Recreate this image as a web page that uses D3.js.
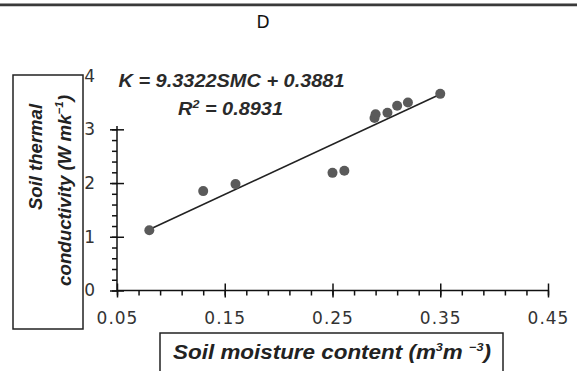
<!DOCTYPE html>
<html><head><meta charset="utf-8">
<script src="https://cdn.jsdelivr.net/npm/d3@7"></script>
<style>body{margin:0;background:#fff}svg{display:block}</style>
</head><body>
<script>
const smc = [0.08, 0.13, 0.16, 0.25, 0.261, 0.289, 0.29, 0.301, 0.31, 0.32, 0.35];
const kVals = [1.12, 1.85, 1.98, 2.19, 2.23, 3.21, 3.28, 3.31, 3.44, 3.50, 3.66];
const xTicks = [0.05, 0.15, 0.25, 0.35, 0.45];
const yTicks = [0, 1, 2, 3, 4];
const slope = 9.3322, intercept = 0.3881;
const fitRange = [0.08, 0.35];

const W = 577, H = 371;
const svg = d3.select("body").append("svg").attr("width", W).attr("height", H);

const x = d3.scaleLinear().domain([0.05, 0.45]).range([117, 548]);
const y = d3.scaleLinear().domain([0, 4]).range([290.5, 75.6]);

// top border
svg.append("rect").attr("x",0).attr("y",3).attr("width",W).attr("height",3.5).attr("fill","#999");
svg.append("rect").attr("x",0).attr("y",4).attr("width",W).attr("height",2).attr("fill","#3a3a3a");

svg.append("text").attr("x",263).attr("y",28).attr("text-anchor","middle")
  .attr("font-family","DejaVu Sans").attr("font-size",17).attr("fill","#111").text("D");

const axisCol = "#111";
// Y axis minor
const gy = svg.append("g").attr("transform",`translate(${x(0.05)},0)`);
gy.call(d3.axisLeft(y).tickValues(d3.range(0, 4.001, 0.2)).tickSize(5).tickFormat(""));
gy.selectAll("path,line").attr("stroke",axisCol).attr("stroke-width",1.5);
gy.select(".domain").attr("d",`M0,${y(0)}V${y(4)}`);
// Y axis major
const gy2 = svg.append("g").attr("transform",`translate(${x(0.05)},0)`);
gy2.call(d3.axisLeft(y).tickValues(yTicks).tickSize(7).tickPadding(15).tickFormat(d3.format("d")));
gy2.select(".domain").remove();
gy2.selectAll("line").attr("x1",-7).attr("x2",7).attr("stroke",axisCol).attr("stroke-width",1.5);
gy2.selectAll("text").attr("font-family","DejaVu Sans").attr("font-size",17).attr("fill","#333");

// X axis minor
const gx = svg.append("g").attr("transform",`translate(0,${y(0)})`);
gx.call(d3.axisBottom(x).tickValues(d3.range(0.05, 0.4501, 0.02)).tickSize(5).tickFormat(""));
gx.selectAll("path,line").attr("stroke",axisCol).attr("stroke-width",1.5);
gx.select(".domain").attr("d",`M${x(0.05)},0H${x(0.45)}`);
const gx2 = svg.append("g").attr("transform",`translate(0,${y(0)})`);
gx2.call(d3.axisBottom(x).tickValues(xTicks).tickSize(7).tickPadding(14).tickFormat(d3.format(".2f")));
gx2.select(".domain").remove();
gx2.selectAll("line").attr("y1",-7).attr("y2",7).attr("stroke",axisCol).attr("stroke-width",1.5);
gx2.selectAll("text").attr("font-family","DejaVu Sans").attr("font-size",17).attr("fill","#333")
  .attr("letter-spacing","1px");

// fit line
svg.append("line")
  .attr("x1",x(fitRange[0])).attr("y1",y(slope*fitRange[0]+intercept))
  .attr("x2",x(fitRange[1])).attr("y2",y(slope*fitRange[1]+intercept))
  .attr("stroke","#222").attr("stroke-width",1.6);

// points
svg.append("g").selectAll("circle").data(smc).join("circle")
  .attr("cx",(d)=>x(d)).attr("cy",(d,i)=>y(kVals[i])).attr("r",5).attr("fill","#5a5a5a");

// equation box (white background covering top of axis)
svg.append("rect").attr("x",104).attr("y",62).attr("width",250).attr("height",64).attr("fill","#fff");
const eq = svg.append("g").attr("font-family","Liberation Sans").attr("font-weight","bold")
  .attr("font-style","italic").attr("fill","#2a2a2a").attr("font-size",17.5);
eq.append("text").attr("transform","translate(231.5,86.5) scale(1.14,1)").attr("text-anchor","middle")
  .text(`K = ${slope}SMC + ${intercept}`);
const r2 = eq.append("text").attr("transform","translate(230.5,115) scale(1.14,1)").attr("text-anchor","middle");
r2.append("tspan").text("R");
r2.append("tspan").attr("font-size",11).attr("dy",-7).text("2");
r2.append("tspan").attr("dy",7).text(" = 0.8931");

// Y label box
svg.append("rect").attr("x",13).attr("y",75).attr("width",70).attr("height",254)
  .attr("fill","none").attr("stroke","#222").attr("stroke-width",1.5);
const yl = svg.append("g").attr("font-family","Liberation Sans").attr("font-weight","bold")
  .attr("font-style","italic").attr("fill","#222").attr("font-size",18);
yl.append("text").attr("transform","translate(42,157) rotate(-90) scale(1.03,1)").attr("text-anchor","middle")
  .text("Soil thermal");
const yl2 = yl.append("text").attr("transform","translate(71,190.5) rotate(-90) scale(1.04,1)").attr("text-anchor","middle");
yl2.append("tspan").text("conductivity (W mk");
yl2.append("tspan").attr("font-size",11).attr("dy",-8).text("−1");
yl2.append("tspan").attr("dy",8).text(")");

// X label box
svg.append("rect").attr("x",160).attr("y",333).attr("width",343).attr("height",45)
  .attr("fill","none").attr("stroke","#222").attr("stroke-width",1.5);
const xl = svg.append("text").attr("transform","translate(332,359) scale(1.15,1)").attr("text-anchor","middle")
  .attr("font-family","Liberation Sans").attr("font-weight","bold").attr("font-style","italic")
  .attr("fill","#222").attr("font-size",19.5);
xl.append("tspan").text("Soil moisture content (m");
xl.append("tspan").attr("font-size",11).attr("dy",-8).text("3");
xl.append("tspan").attr("dy",8).text("m ");
xl.append("tspan").attr("font-size",11).attr("dy",-8).text("−3");
xl.append("tspan").attr("dy",8).text(")");
</script>
</body></html>
